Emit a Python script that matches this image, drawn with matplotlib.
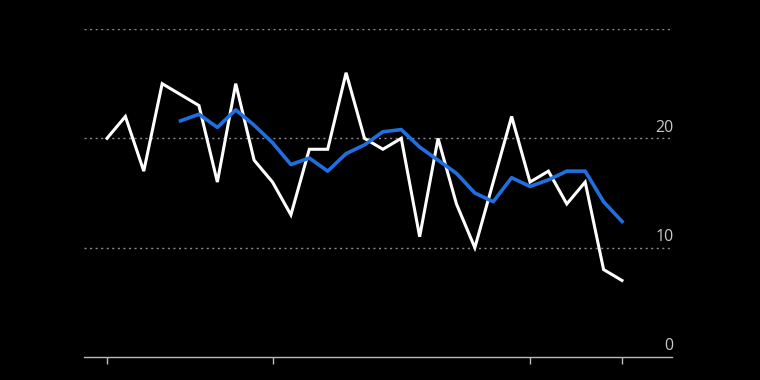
import matplotlib
matplotlib.use("Agg")
import matplotlib.pyplot as plt

periods = list(range(29))
values = [20, 22, 17, 25, 24, 23, 16, 25, 18, 16, 13, 19, 19, 26, 20,
          19, 20, 11, 20, 14, 10, 16, 22, 16, 17, 14, 16, 8, 7]
avg_periods = list(range(4, 29))
avg_values = [21.6, 22.2, 21.0, 22.6, 21.2, 19.6, 17.6, 18.2, 17.0, 18.6,
              19.4, 20.6, 20.8, 19.2, 18.0, 16.8, 15.0, 14.2, 16.4, 15.6,
              16.2, 17.0, 17.0, 14.2, 12.4]
tick_positions = [0, 9, 23, 28]
y_gridlines = [10, 20, 30]
y_labels = [0, 10, 20]

fig = plt.figure(figsize=(7.6, 3.8), dpi=100, facecolor="black")
ax = fig.add_axes([84/760, 23/380, (672-84)/760, (357-29)/380], facecolor="black")

for g in y_gridlines:
    ax.axhline(g, color="#8a8a8a", lw=1.0, ls=(0, (1.5, 2.5)), zorder=1)

ax.plot(periods, values, color="white", lw=2.2, zorder=3, solid_joinstyle="miter")
ax.plot(avg_periods, avg_values, color="#1f6fe0", lw=2.6, zorder=4)

ax.set_xlim(-1.25, 30.72)
ax.set_ylim(0, 30)

for s in ["top", "right", "left"]:
    ax.spines[s].set_visible(False)
ax.spines["bottom"].set_color("#bbbbbb")
ax.spines["bottom"].set_linewidth(1.0)

ax.set_xticks(tick_positions)
ax.set_xticklabels([])
ax.tick_params(axis="x", colors="#bbbbbb", length=5, width=1.0, direction="out")
ax.set_yticks([])

for v in y_labels:
    ax.annotate(str(v), xy=(1.0, v), xycoords=("axes fraction", "data"),
                xytext=(1, 2), textcoords="offset points",
                ha="right", va="bottom", color="#c8c8c8",
                fontsize=11.5, family="Open Sans")

fig.savefig("out.png", dpi=100, facecolor="black")
